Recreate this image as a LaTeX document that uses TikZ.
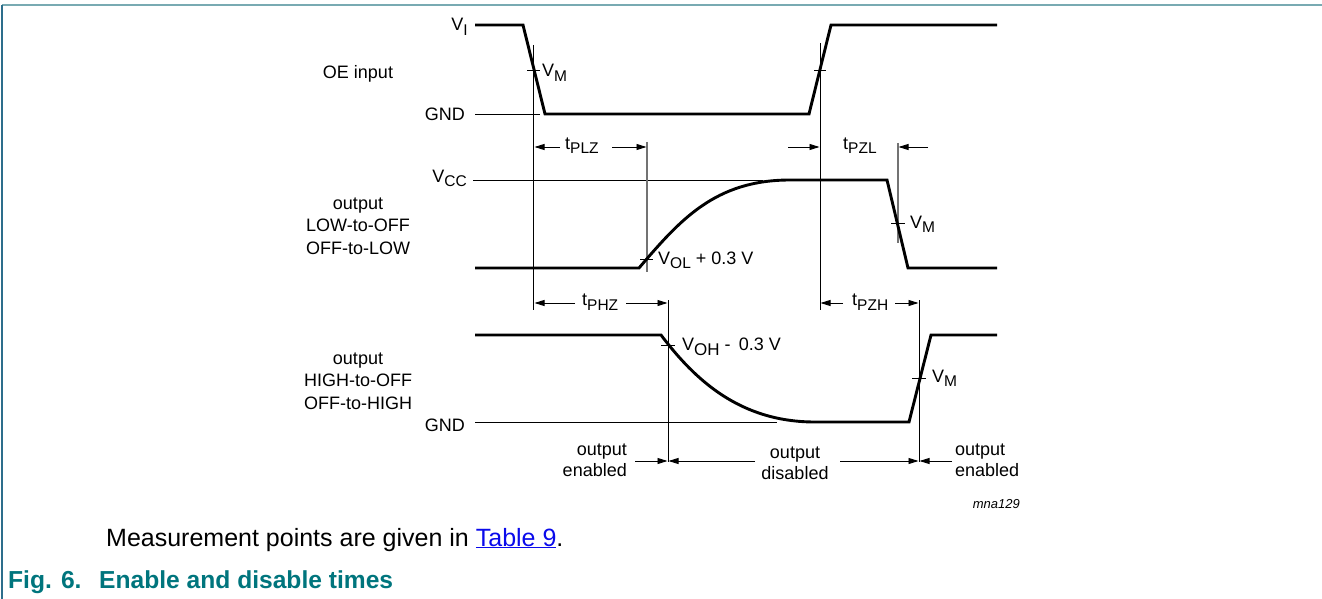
\documentclass[tikz,border=0pt]{standalone}
\usepackage{fontspec}
\setmainfont{Liberation Sans}
\usetikzlibrary{arrows.meta}
\definecolor{capteal}{RGB}{0,117,125}
\definecolor{frametop}{RGB}{120,170,178}
\definecolor{frameleft}{RGB}{45,110,140}
\definecolor{linkblue}{RGB}{10,10,235}
\newcommand{\sbs}[1]{\raisebox{-4.5pt}{\fontsize{15.5}{15.5}\selectfont #1}}
\newcommand{\sbsbig}[1]{\raisebox{-5.5pt}{\fontsize{17}{17}\selectfont #1}}
\begin{document}
\begin{tikzpicture}[x=1pt,y=-1pt,
  wave/.style={line width=2.9pt,line join=miter},
  hair/.style={line width=0.9pt},
  hairg/.style={line width=1.1pt,draw=black!55},
  dim/.style={line width=0.9pt,-{Triangle[length=10pt,width=6pt]}},
  lbl/.style={font=\fontsize{18}{22.5}\selectfont,inner sep=0pt},
  lbltwo/.style={font=\fontsize{18}{21}\selectfont,inner sep=0pt},
]
\useasboundingbox (0,0) rectangle (1322,599);
% frame
\draw[frametop,line width=1.5pt] (2,5) -- (1322,5);
\draw[frameleft,line width=1.5pt] (2,5) -- (2,599);

% thin reference lines
\draw[hair] (475,114) -- (540,114);
\draw[hair] (473,180) -- (763,180);
\draw[hair] (475,422) -- (777,422);

% measurement verticals
\draw[hair] (533.7,45) -- (533.7,310);
\draw[hair] (820,43) -- (820,310);
\draw[hairg] (647,142) -- (647,272);
\draw[hairg] (898,143) -- (898,243);
\draw[hair] (668,300) -- (668,462);
\draw[hair] (919,300) -- (919,462);

% waveforms
\draw[wave] (475,25) -- (523,25) -- (545,114) -- (809,114) -- (831,25) -- (997,25);
\draw[wave] (475,268) -- (639,268) .. controls (680,220) and (715,180) .. (790,180) -- (887,180) -- (908,268) -- (997,268);
\draw[wave] (475,335) -- (661,335) .. controls (695,380) and (740,422) .. (815,422) -- (909,422) -- (931,335) -- (997,335);

% ticks
\draw[hair] (527,70) -- (540,70);
\draw[hair] (814,70) -- (826,70);
\draw[hair] (640,259) -- (653,259);
\draw[hair] (891,223) -- (905,223);
\draw[hair] (661,345) -- (675,345);
\draw[hair] (912,378) -- (926,378);

% dimension arrow end points
\coordinate (plzA) at (560,147);   \coordinate (plzB) at (534.5,147);
\coordinate (plzC) at (612,147);   \coordinate (plzD) at (646.5,147);
\coordinate (pzlA) at (788,147);   \coordinate (pzlB) at (819.5,147);
\coordinate (pzlC) at (928,147);   \coordinate (pzlD) at (898.5,147);
\coordinate (phzA) at (575,303);   \coordinate (phzB) at (534.5,303);
\coordinate (phzC) at (626,303);   \coordinate (phzD) at (667.5,303);
\coordinate (pzhA) at (843,303);   \coordinate (pzhB) at (820.5,303);
\coordinate (pzhC) at (895,303);   \coordinate (pzhD) at (918.5,303);
\coordinate (enA) at (635,461);    \coordinate (enB) at (667.5,461);
\coordinate (disA) at (755,461);   \coordinate (disB) at (668.5,461);
\coordinate (disC) at (840,461);   \coordinate (disD) at (918.5,461);
\coordinate (en2A) at (952,461);   \coordinate (en2B) at (919.5,461);

\draw[dim] (plzA) -- (plzB);
\draw[dim] (plzC) -- (plzD);
\draw[dim] (pzlA) -- (pzlB);
\draw[dim] (pzlC) -- (pzlD);
\draw[dim] (phzA) -- (phzB);
\draw[dim] (phzC) -- (phzD);
\draw[dim] (pzhA) -- (pzhB);
\draw[dim] (pzhC) -- (pzhD);
\draw[dim] (enA) -- (enB);
\draw[dim] (disA) -- (disB);
\draw[dim] (disC) -- (disD);
\draw[dim] (en2A) -- (en2B);

% level labels
\node[lbl,anchor=base east] (vi) at (468,31) {V\sbs{I}};
\node[lbl,anchor=base east] (gnda) at (465,121) {GND};
\node[lbl,anchor=base east] (vcc) at (467,182) {V\sbs{CC}};
\node[lbl,anchor=base east] (gndb) at (465,431) {GND};

% signal names
\node[lbl,anchor=base] (oe) at (358,79) {OE input};
\node[lbl,align=center] (outl) at (358,226) {output\\LOW-to-OFF\\OFF-to-LOW};
\node[lbl,align=center] (outh) at (358,381) {output\\HIGH-to-OFF\\OFF-to-HIGH};

% threshold labels
\node[lbl,anchor=base west] (vm1) at (542,77) {V\sbs{M}};
\node[lbl,anchor=base west] (vol) at (658,264) {V\sbs{OL} + 0.3 V};
\node[lbl,anchor=base west] (vm2) at (910,228) {V\sbs{M}};
\node[lbl,anchor=base west] (voh) at (682,350) {V\sbsbig{OH} -\hspace{0.45em}0.3 V};
\node[lbl,anchor=base west] (vm3) at (932,382) {V\sbs{M}};

% timing labels
\node[lbl,anchor=base west] (tplz) at (565,149.5) {t\sbs{PLZ}};
\node[lbl,anchor=base west] (tpzl) at (843,149.5) {t\sbs{PZL}};
\node[lbl,anchor=base west] (tphz) at (582,305.5) {t\sbs{PHZ}};
\node[lbl,anchor=base west] (tpzh) at (852,305.5) {t\sbs{PZH}};

% state labels
\node[lbltwo,align=right,anchor=east] (ena) at (627,460.5) {output\\enabled};
\node[lbltwo,align=center] (dis) at (795,463) {output\\disabled};
\node[lbltwo,align=left,anchor=west] (enb) at (955,460.5) {output\\enabled};

\node[inner sep=0pt,anchor=base east,font=\itshape\fontsize{13}{13}\selectfont] (code) at (1020,508) {mna129};

% caption
\node[inner sep=0pt,anchor=base west,font=\fontsize{25}{25}\selectfont] (meas) at (106,546) {Measurement points are given in \textcolor{linkblue}{\underline{Table 9}}.};
\node[inner sep=0pt,anchor=base west,font=\bfseries\fontsize{24.6}{24.6}\selectfont,text=capteal] (fignum) at (8,588) {Fig. 6.};
\node[inner sep=0pt,anchor=base west,font=\bfseries\fontsize{24.6}{24.6}\selectfont,text=capteal] (figtitle) at (99,588) {Enable and disable times};
\end{tikzpicture}
\end{document}
